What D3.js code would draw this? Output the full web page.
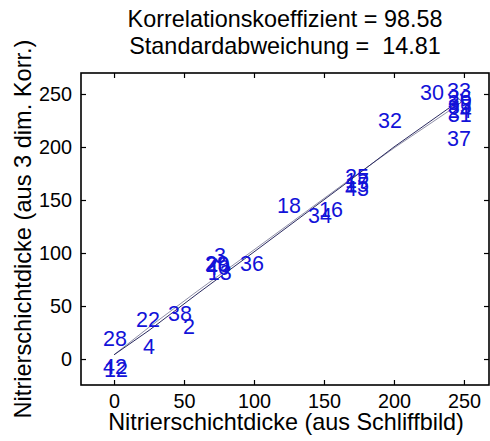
<!DOCTYPE html>
<html><head><meta charset="utf-8">
<script src="https://cdn.jsdelivr.net/npm/d3@7"></script>
<style>
body{margin:0;background:#fff;}
svg{display:block;font-family:Arial,"Liberation Sans",sans-serif;}
</style></head>
<body><svg id="c" width="490" height="441"></svg>
<script>
// ---- data ----
const titleLines = ["Korrelationskoeffizient = 98.58", "Standardabweichung =  14.81"];
const xLabel = "Nitrierschichtdicke (aus Schliffbild)";
const yLabel = "Nitrierschichtdicke (aus 3 dim. Korr.)";
const xTicks = [0, 50, 100, 150, 200, 250];
const yTicks = [0, 50, 100, 150, 200, 250];
const xDomain = [-23.6, 267.9];
const yDomain = [-24.5, 269.8];

// sample number labels and their positions (measured, estimated)
const sampleIds = ["30","33","26","39","35","24","31","37","32","18","34","16","25","17","15","43","29","20","40","13","3","36","22","38","2","28","4","12","42"];
const sampleX   = [218.6,237.9,238.5,238.5,238.5,238.5,238.5,237.9,188.6,116.4,138.6,146.4,165,165,165,165,65,65.5,65.7,67,71.4,90,15.7,38.6,49.3,-7.9,20.7,-7.2,-7.9];
const sampleY   = [252,253.8,247,242.5,238.7,235,231,208.5,225.5,145.3,135.8,141.5,172.6,168.9,165.1,161.3,90.6,89,86.8,82,97.5,90.6,37.7,43.4,31,19.8,12.3,-9.4,-7.2];

// two fit/connection lines
const lineAX = [0, 25, 60, 100, 165, 200, 246];
const lineAY = [4, 27, 62, 101, 165, 200, 243];
const lineBX = [0, 25, 60, 100, 165, 200, 246];
const lineBY = [4, 30, 64.5, 103, 166, 199, 240];

// ---- layout ----
const L = 81, R = 489, T = 73, B = 385;
const svg = d3.select("#c");
const x = d3.scaleLinear().domain(xDomain).range([L, R]);
const y = d3.scaleLinear().domain(yDomain).range([B, T]);

// title
svg.selectAll("text.title").data(titleLines).join("text")
  .attr("class","title")
  .attr("x", 285).attr("y", (d,i) => 27 + i*27)
  .attr("text-anchor","middle")
  .attr("font-size", 23.4)
  .style("white-space","pre")
  .attr("xml:space","preserve")
  .text(d => d);

// axes
const gx = svg.append("g").attr("transform", `translate(0,${B})`)
  .call(d3.axisBottom(x).tickValues(xTicks).tickSize(-5).tickPadding(9).tickFormat(d3.format("d")));
const gxt = svg.append("g").attr("transform", `translate(0,${T})`)
  .call(d3.axisTop(x).tickValues(xTicks).tickSize(-5).tickFormat(""));
const gy = svg.append("g").attr("transform", `translate(${L},0)`)
  .call(d3.axisLeft(y).tickValues(yTicks).tickSize(-5).tickPadding(9).tickFormat(d3.format("d")));
const gyr = svg.append("g").attr("transform", `translate(${R},0)`)
  .call(d3.axisRight(y).tickValues(yTicks).tickSize(-5).tickFormat(""));
[gx,gxt,gy,gyr].forEach(g => {
  g.select(".domain").remove();
  g.selectAll(".tick line").attr("stroke","#000").attr("stroke-width",1.2);
  g.selectAll(".tick text").attr("font-size",19.8).attr("fill","#000")
    .attr("font-family","Arial, 'Liberation Sans', sans-serif");
});

svg.append("rect").attr("x",L).attr("y",T).attr("width",R-L).attr("height",B-T)
  .attr("fill","none").attr("stroke","#000").attr("stroke-width",1.6);

// lines
const lg = d3.line().x(d => x(d[0])).y(d => y(d[1]));
svg.append("path").datum(d3.zip(lineBX, lineBY)).attr("d", lg)
  .attr("fill","none").attr("stroke","#9090a8").attr("stroke-width",1);
svg.append("path").datum(d3.zip(lineAX, lineAY)).attr("d", lg)
  .attr("fill","none").attr("stroke","#2a2a60").attr("stroke-width",1);
svg.selectAll("circle.end").data([[lineAX[lineAX.length-1], lineAY[lineAY.length-1]]]).join("circle")
  .attr("cx", d => x(d[0])).attr("cy", d => y(d[1])).attr("r", 2.5)
  .attr("fill","none").attr("stroke","#606080").attr("stroke-width",1);

// labels
svg.selectAll("text.sid").data(d3.range(sampleIds.length)).join("text")
  .attr("class","sid")
  .attr("x", i => x(sampleX[i])).attr("y", i => y(sampleY[i]))
  .attr("dy","0.36em")
  .attr("font-size", 21.5)
  .attr("fill","#1212d8")
  .text(i => sampleIds[i]);

// axis labels
svg.append("text").attr("x", 286).attr("y", 430).attr("text-anchor","middle")
  .attr("font-size", 23.4).text(xLabel);
svg.append("text").attr("transform","translate(31,229) rotate(-90)").attr("text-anchor","middle")
  .attr("font-size", 23.6).text(yLabel);
</script></body></html>
